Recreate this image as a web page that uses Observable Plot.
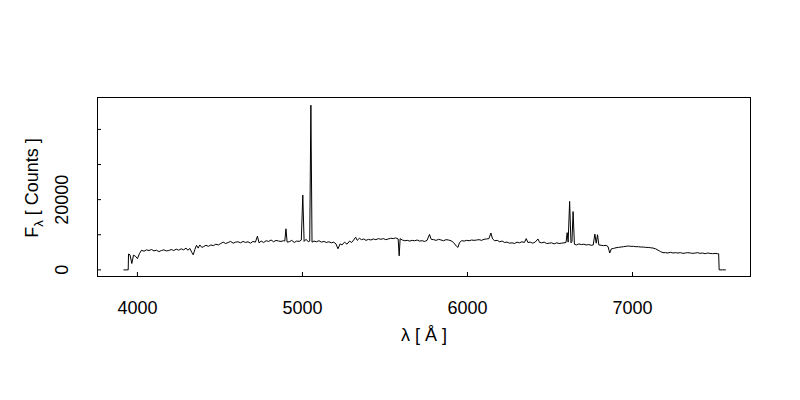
<!DOCTYPE html>
<html>
<head>
<meta charset="utf-8">
<script src="https://cdn.jsdelivr.net/npm/d3@7"></script>
<script src="https://cdn.jsdelivr.net/npm/@observablehq/plot@0.6"></script>
<style>
  html, body { margin: 0; padding: 0; background: #ffffff; }
</style>
</head>
<body>
<div id="chart"></div>
<script>
// Wavelength (Å) samples
const wavelength = [
  3918, 3930, 3944, 3946, 3955, 3966, 3976, 3990, 4000, 4012, 4025,
  4040, 4055, 4070, 4085, 4100, 4115, 4130, 4145, 4160, 4175, 4190, 4205, 4220, 4235, 4250, 4265, 4280, 4295, 4305, 4318,
  4330, 4338, 4348, 4358, 4368, 4378, 4390, 4400, 4415, 4430, 4445, 4460, 4475, 4490, 4505, 4520, 4535, 4550, 4565, 4580,
  4595, 4610, 4625, 4640, 4655, 4670, 4685, 4700, 4715, 4727, 4737, 4750, 4765, 4780, 4795, 4810, 4825, 4840, 4855, 4870,
  4885, 4893, 4900, 4907, 4920, 4935, 4950, 4965, 4980, 4993, 5002, 5010, 5022, 5035, 5044, 5051, 5058, 5070, 5085, 5100,
  5115, 5130, 5145, 5160, 5175, 5190, 5203, 5215, 5228, 5240, 5255, 5270, 5285, 5298, 5310, 5322, 5332, 5345, 5358, 5372,
  5385, 5400, 5415, 5430, 5445, 5460, 5475, 5490, 5505, 5520, 5535, 5550, 5565, 5580, 5586, 5592, 5605, 5620, 5635, 5650,
  5665, 5680, 5695, 5710, 5725, 5740, 5755, 5770, 5780, 5795, 5810, 5825, 5840, 5855, 5870, 5885, 5900, 5915, 5932, 5942,
  5952, 5965, 5980, 5995, 6010, 6025, 6040, 6055, 6070, 6085, 6100, 6115, 6130, 6142, 6152, 6165, 6180, 6195, 6210, 6225,
  6240, 6255, 6270, 6285, 6300, 6315, 6330, 6345, 6356, 6366, 6380, 6395, 6410, 6427, 6437, 6450, 6465, 6480, 6495, 6510,
  6525, 6540, 6555, 6570, 6585, 6597, 6604, 6610, 6619, 6627, 6633, 6640, 6648, 6660, 6675, 6690, 6705, 6720, 6735, 6750,
  6762, 6772, 6780, 6788, 6796, 6810, 6825, 6840, 6852, 6862, 6872, 6885, 6900, 6915, 6930, 6945, 6960, 6975, 6990, 7005,
  7020, 7035, 7050, 7065, 7080, 7095, 7110, 7125, 7140, 7155, 7170, 7185, 7200, 7215, 7230, 7245, 7260, 7275, 7290, 7305,
  7320, 7335, 7350, 7365, 7380, 7395, 7410, 7425, 7440, 7455, 7470, 7485, 7500, 7515, 7522, 7525, 7545, 7563
];
// Flux (counts) at each wavelength above
const flux = [
  0, 0, 0, 4500, 4300, 1800, 4200, 3800, 3200, 4600, 5600,
  5300, 5700, 5500, 5800, 5400, 5600, 5200, 5500, 5700, 5400, 5500, 5800, 5500, 5900, 5600, 6000, 5700, 6200, 5600, 6100,
  4900, 4300, 5800, 7000, 6200, 7100, 6400, 6600, 7000, 6700, 7100, 6900, 7300, 7100, 7500, 7900, 7500, 7800, 8100, 7600,
  7900, 8000, 7700, 8100, 7800, 8000, 7600, 8100, 7900, 9600, 7700, 8200, 7800, 8300, 8100, 8500, 8000, 8400, 8200, 8100,
  8300, 8200, 11700, 7900, 8000, 8400, 7800, 8200, 8100, 8500, 21300, 8100, 8700, 8000, 8200, 46900, 7900, 8200, 8000, 8300,
  7900, 8100, 7800, 8000, 7700, 7900, 7400, 6000, 7400, 7100, 7900, 7300, 8200, 7800, 8500, 9300, 8400, 9000, 8600, 8800,
  8400, 8700, 8500, 8800, 8600, 8900, 8700, 8900, 8600, 8800, 9000, 8900, 9100, 8800, 4000, 8900, 8500, 8300, 8400, 8200,
  8400, 8300, 8500, 8200, 8300, 8100, 8400, 10100, 8700, 8600, 8400, 8700, 8500, 8300, 8600, 8500, 8300, 7800, 6800, 6400,
  7800, 8300, 8200, 8400, 8300, 8500, 8400, 8500, 8600, 8400, 8700, 8800, 8900, 10500, 8800, 8300, 8400, 8000, 8200, 7800,
  7900, 7600, 7700, 7500, 7900, 7700, 8000, 7800, 8900, 7800, 7900, 7600, 7900, 8800, 7800, 7700, 7900, 7500, 7600, 7700,
  7400, 7700, 7500, 7600, 7700, 7800, 10600, 7900, 19500, 7700, 8000, 16600, 7300, 7100, 7400, 7200, 7300, 7100, 7200, 7000,
  7100, 10200, 7600, 10000, 7100, 7000, 6900, 7000, 6600, 4800, 6000, 6100, 6300, 6400, 6500, 6600, 6700, 6800, 6700, 6700,
  6600, 6600, 6500, 6500, 6400, 6400, 6300, 6200, 6000, 5600, 5200, 4900, 4900, 4800, 5000, 4800, 4900, 4800, 4900, 4700,
  4800, 4900, 4800, 4700, 4800, 4900, 4700, 4800, 4600, 4800, 4700, 4600, 4700, 4600, 4600, 0, 0, 0
];
const xTicks = [4000, 5000, 6000, 7000];
const yTicks = [0, 10000, 20000, 30000, 40000];
const yTickLabels = [0, 20000];
const xTitle = "λ [ Å ]";
const yTitle = "Fλ [ Counts ]";

const data = wavelength.map((w, i) => ({w, f: flux[i]}));

const chart = Plot.plot({
  width: 800,
  height: 400,
  marginLeft: 97,
  marginRight: 50,
  marginTop: 97,
  marginBottom: 124,
  style: {fontFamily: "'Liberation Sans', Arial, sans-serif", fontSize: "18px", background: "#ffffff", color: "#000"},
  x: {domain: [3758, 7715], axis: null},
  y: {domain: [-1890, 49090], axis: null},
  marks: [
    Plot.frame({stroke: "#000", strokeWidth: 1}),
    Plot.line(data, {x: "w", y: "f", stroke: "#000", strokeWidth: 1}),
    Plot.tickX(xTicks, {x: d => d, insetTop: 175, stroke: "#000"}),
    Plot.tickY(yTicks, {y: d => d, insetRight: 649, stroke: "#000"}),
    Plot.text(xTicks, {x: d => d, frameAnchor: "bottom", dy: 37, text: d => String(d), fill: "#000", fontSize: 18, textAnchor: "middle"}),
    Plot.text(yTickLabels, {y: d => d, frameAnchor: "left", dx: -35, rotate: -90, text: d => String(d), fill: "#000", fontSize: 18, textAnchor: "middle"}),
    Plot.text([xTitle], {frameAnchor: "bottom", dy: 64, text: d => d, fill: "#000", fontSize: 18, textAnchor: "middle"}),
    Plot.text([yTitle], {frameAnchor: "left", dx: -65, dy: 1, rotate: -90, text: d => d, fill: "#000", fontSize: 18, textAnchor: "middle"})
  ]
});
document.getElementById("chart").appendChild(chart);

// Render the λ in the y title as a subscript
d3.select(chart).selectAll("text").each(function() {
  if (this.textContent === yTitle) {
    const t = d3.select(this);
    t.text(null);
    t.append("tspan").text("F");
    t.append("tspan").attr("font-size", 13).attr("dy", 5).text("λ");
    t.append("tspan").attr("dy", -5).text(" [ Counts ]");
  }
});
</script>
</body>
</html>
